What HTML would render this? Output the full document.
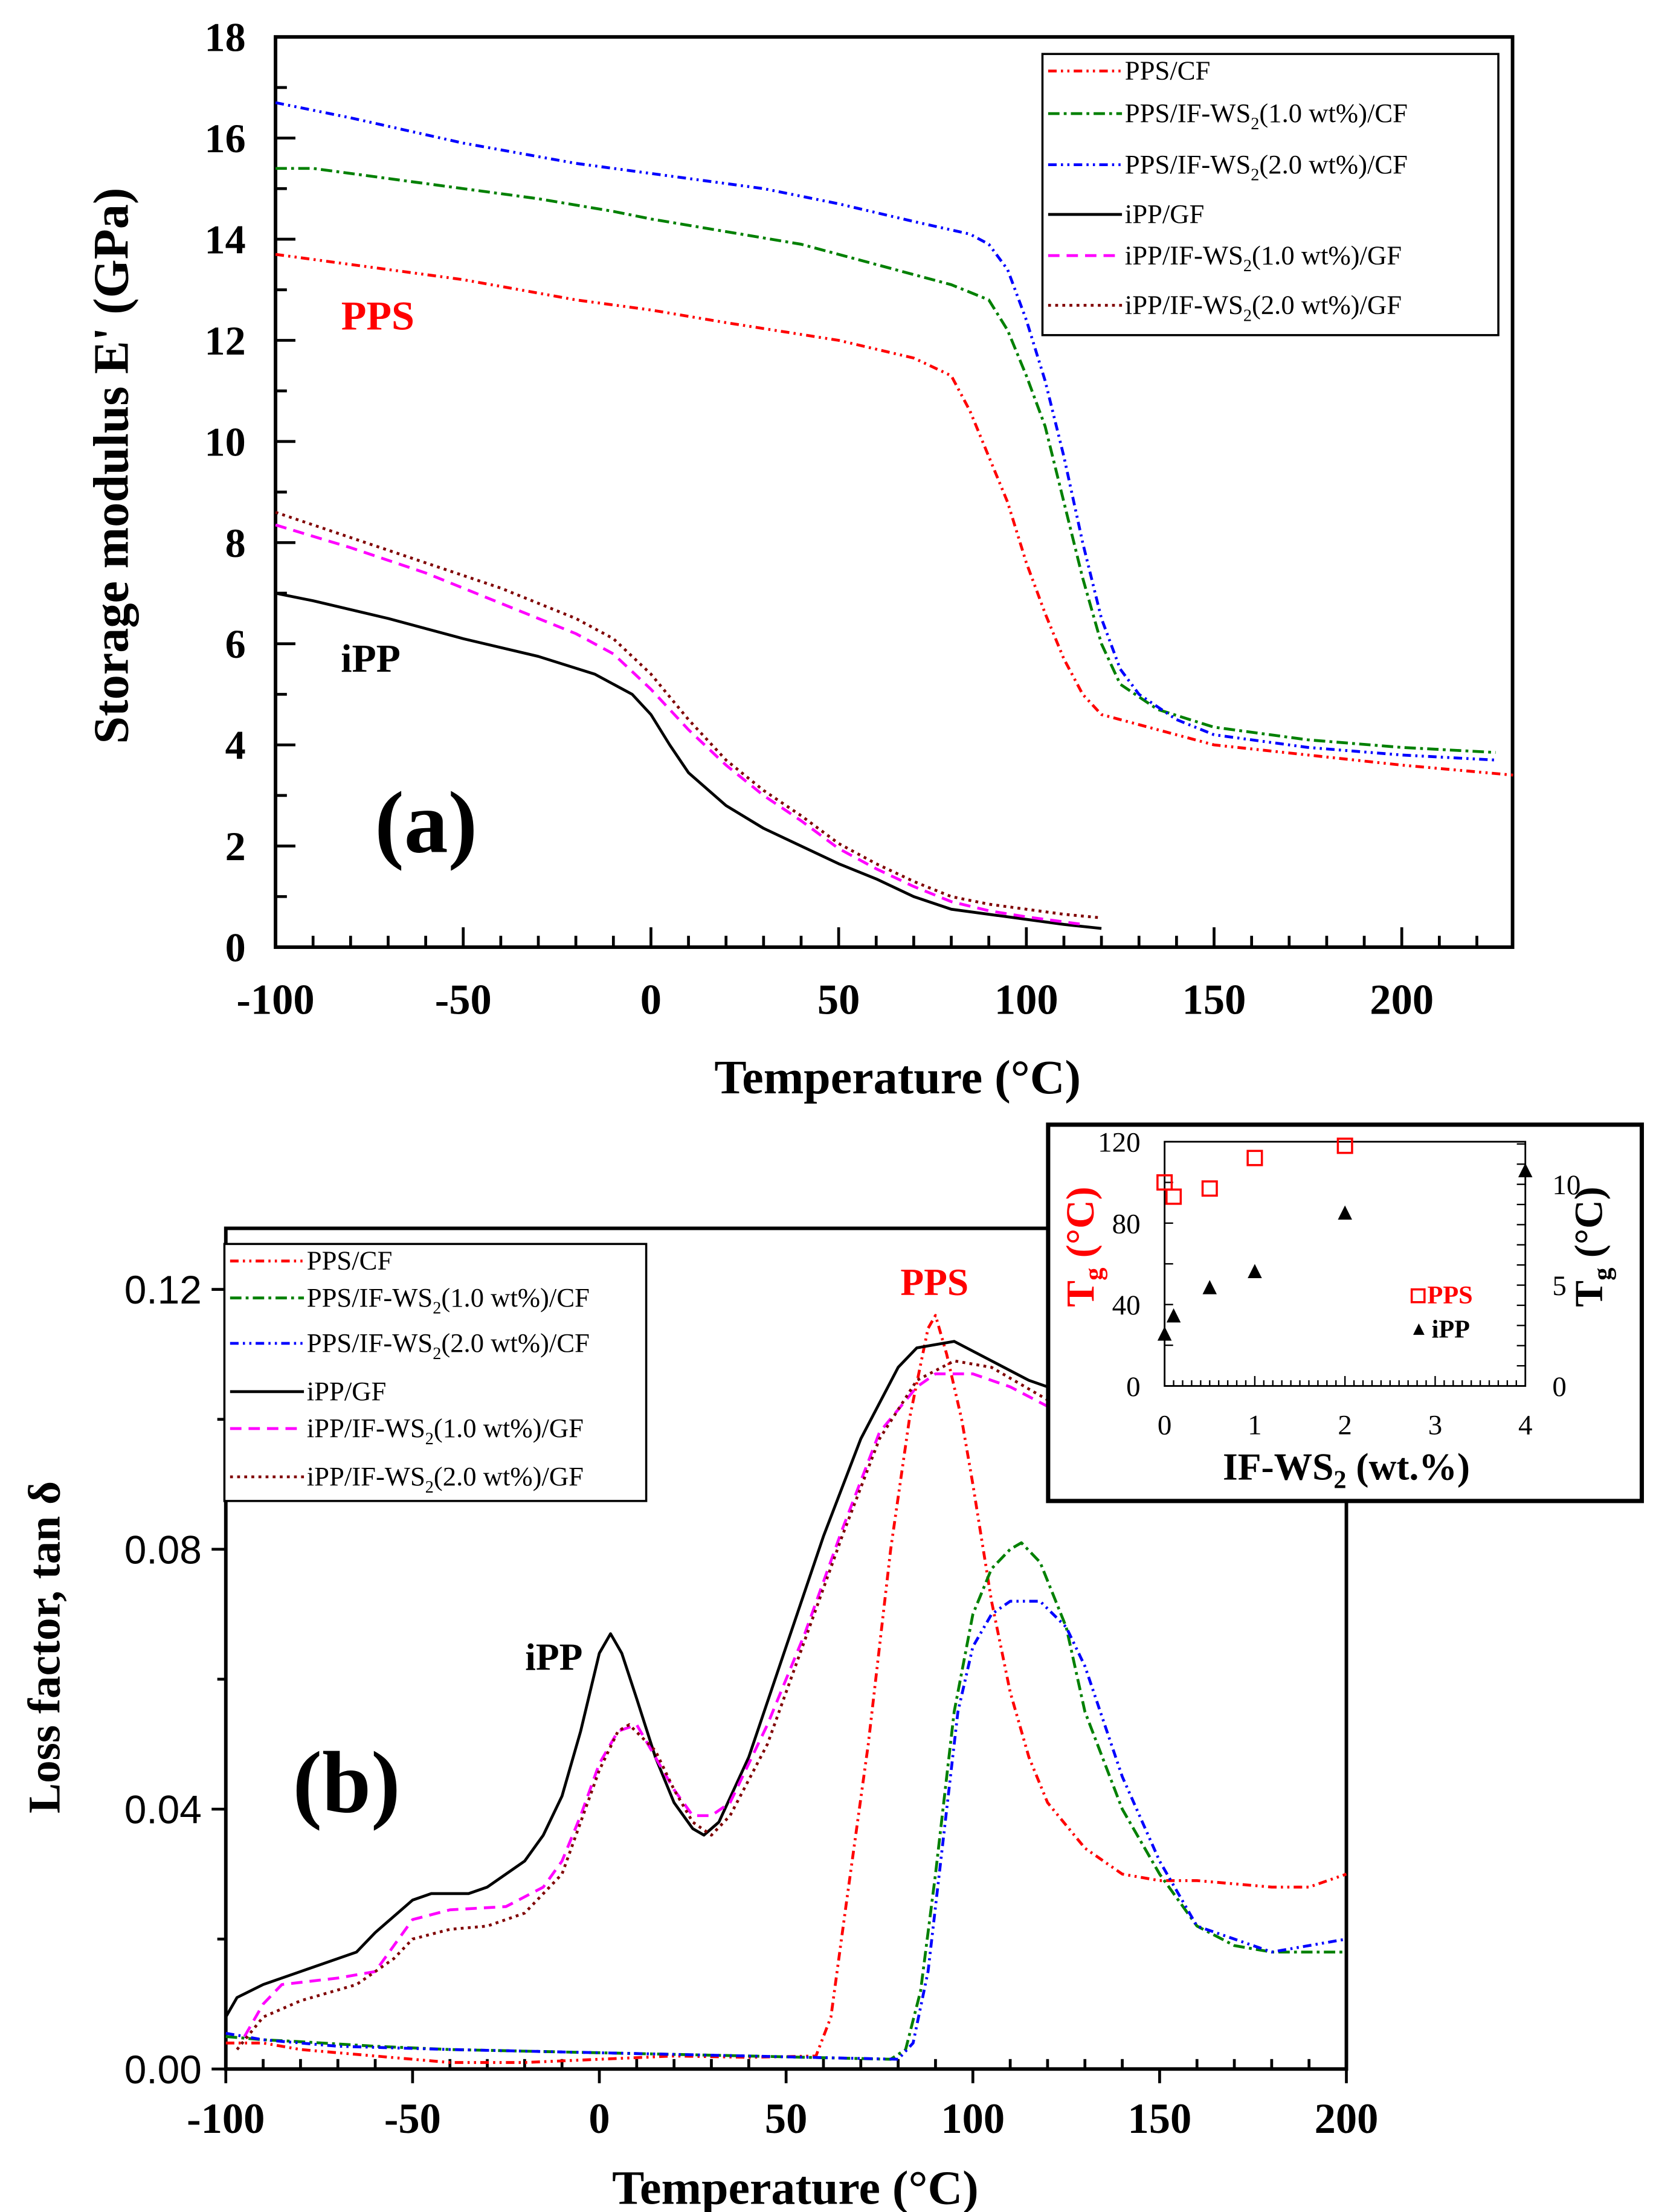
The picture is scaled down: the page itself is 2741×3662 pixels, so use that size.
<!DOCTYPE html>
<html><head><meta charset="utf-8"><style>
html,body{margin:0;padding:0;background:#fff;}
svg{display:block;}
</style></head><body>
<svg id="fig" width="2741" height="3662" viewBox="0 0 1166 1557.7" preserveAspectRatio="none" xmlns="http://www.w3.org/2000/svg"></svg>
<script>
// ---------- data (a) storage modulus ----------
const aRedT=[-100,-80,-50,-20,0,20,50,70,80,85,90,95,100,105,110,115,120,130,150,175,200,230];
const aRedV=[13.7,13.5,13.2,12.8,12.6,12.35,12.0,11.65,11.3,10.6,9.7,8.8,7.6,6.6,5.7,5.0,4.6,4.4,4.0,3.8,3.6,3.4];
const aGreenT=[-100,-90,-70,-50,-30,-10,0,20,40,60,80,90,95,100,105,110,115,120,125,135,150,175,200,225];
const aGreenV=[15.4,15.4,15.2,15.0,14.8,14.55,14.4,14.15,13.9,13.5,13.1,12.8,12.2,11.3,10.3,8.8,7.3,6.0,5.2,4.7,4.35,4.1,3.95,3.85];
const aBlueT=[-100,-80,-50,-20,0,30,50,70,85,90,95,100,105,110,115,120,125,130,140,150,175,200,225];
const aBlueV=[16.7,16.4,15.9,15.5,15.3,15.0,14.7,14.35,14.1,13.9,13.4,12.4,11.2,9.7,8.0,6.5,5.5,5.0,4.5,4.2,3.95,3.8,3.7];
const aBlackT=[-100,-90,-70,-50,-30,-15,-5,0,5,10,20,30,40,50,60,70,80,90,100,110,120];
const aBlackV=[7.0,6.85,6.5,6.1,5.75,5.4,5.0,4.6,4.0,3.45,2.8,2.35,2.0,1.65,1.35,1.0,0.75,0.65,0.55,0.45,0.37];
const aMagT=[-100,-80,-60,-40,-20,-10,0,10,20,30,40,50,60,70,80,90,100,110,115];
const aMagV=[8.35,7.9,7.4,6.8,6.2,5.8,5.1,4.3,3.6,3.0,2.5,1.95,1.55,1.2,0.9,0.72,0.6,0.5,0.45];
const aBrT=[-100,-80,-60,-40,-20,-10,0,10,20,30,40,50,60,70,80,90,100,110,120];
const aBrV=[8.6,8.1,7.6,7.1,6.5,6.1,5.4,4.5,3.7,3.1,2.6,2.05,1.65,1.3,1.0,0.85,0.75,0.65,0.58];
const aXTicks=[-100,-50,0,50,100,150,200];
const aYTicks=[0,2,4,6,8,10,12,14,16,18];
// ---------- data (b) loss factor ----------
const bRedT=[-100,-90,-80,-60,-40,-20,0,20,40,58,62,66,72,78,83,88,90,93,97,100,105,110,115,120,130,140,150,160,180,190,200];
const bRedV=[0.004,0.004,0.003,0.002,0.001,0.001,0.0015,0.002,0.0018,0.002,0.008,0.025,0.05,0.08,0.1,0.114,0.116,0.11,0.1,0.09,0.072,0.058,0.048,0.041,0.034,0.03,0.029,0.029,0.028,0.028,0.03];
const bGreenT=[-100,-90,-80,-60,-40,0,40,78,82,86,90,95,100,105,110,113,118,125,130,140,150,160,170,180,190,200];
const bGreenV=[0.005,0.0045,0.0042,0.0035,0.003,0.0025,0.002,0.0015,0.003,0.012,0.03,0.055,0.07,0.077,0.08,0.081,0.078,0.068,0.055,0.04,0.03,0.022,0.019,0.018,0.018,0.018];
const bBlueT=[-100,-90,-70,-40,0,40,80,84,88,92,96,100,105,110,118,125,130,140,150,160,170,180,190,200];
const bBlueV=[0.0055,0.0045,0.0035,0.003,0.0025,0.002,0.0015,0.004,0.015,0.035,0.055,0.065,0.07,0.072,0.072,0.068,0.062,0.045,0.032,0.022,0.02,0.018,0.019,0.02];
const bBlackT=[-100,-97,-90,-80,-70,-65,-60,-50,-45,-35,-30,-20,-15,-10,-5,0,3,6,10,15,20,25,28,32,40,50,60,70,80,85,95,105,115,120];
const bBlackV=[0.008,0.011,0.013,0.015,0.017,0.018,0.021,0.026,0.027,0.027,0.028,0.032,0.036,0.042,0.052,0.064,0.067,0.064,0.057,0.048,0.041,0.037,0.036,0.038,0.048,0.065,0.082,0.097,0.108,0.111,0.112,0.109,0.106,0.105];
const bMagT=[-95,-90,-85,-70,-60,-55,-50,-40,-25,-15,-10,-5,0,5,10,15,20,25,30,35,45,55,65,75,85,90,100,110,120];
const bMagV=[0.005,0.01,0.013,0.014,0.015,0.019,0.023,0.0245,0.025,0.028,0.032,0.039,0.047,0.052,0.053,0.048,0.043,0.039,0.039,0.041,0.053,0.067,0.083,0.098,0.105,0.107,0.107,0.105,0.102];
const bBrT=[-97,-90,-80,-65,-55,-50,-40,-30,-20,-10,-5,0,5,8,15,20,25,30,35,45,55,65,75,85,95,105,120];
const bBrV=[0.003,0.008,0.0105,0.013,0.017,0.02,0.0215,0.022,0.024,0.03,0.038,0.046,0.052,0.053,0.049,0.043,0.038,0.036,0.039,0.05,0.066,0.082,0.097,0.106,0.109,0.108,0.103];
const bXTicks=[-100,-50,0,50,100,150,200];
const bYTicks=[0,0.04,0.08,0.12];
const bYTickLabels=["0.00","0.04","0.08","0.12"];
// ---------- inset ----------
const insPPSx=[0,0.1,0.5,1,2];
const insPPSy=[100,93,97,112,118];
const insIPPx=[0,0.1,0.5,1,2,4];
const insIPPy=[2.6,3.5,4.9,5.7,8.6,10.7];
const insXTicks=[0,1,2,3,4];
const insYL=[0,40,80,120];
const insYR=[0,5,10];

const NS="http://www.w3.org/2000/svg";
const svg=document.getElementById('fig');
function mk(tag,attrs,parent){const e=document.createElementNS(NS,tag);for(const k in attrs)e.setAttribute(k,attrs[k]);(parent||svg).appendChild(e);return e;}
function txt(s,x,y,size,opts,parent){opts=opts||{};const t=mk('text',{x:x,y:y,'font-size':size,'font-family':opts.ff||'"Liberation Serif",serif','font-weight':opts.fw||'normal','text-anchor':opts.anchor||'middle',fill:opts.fill||'#000'},parent);if(opts.rot)t.setAttribute('transform','rotate(-90 '+x+' '+y+')');t.textContent=s;return t;}

// axes (a)
const ax=v=>194+(v+100)*(987-194)/300;
const ay=v=>667-v*(667-26)/18;
// axes (b)
const bx=v=>159+(v+100)*(948-159)/300;
const by=v=>1457-v*(1457-908)/0.12;

function poly(T,V,fx,fy,color,dash,name,parent){
  const pts=T.map((t,i)=>fx(t).toFixed(2)+','+fy(V[i]).toFixed(2)).join(' ');
  const p=mk('polyline',{points:pts,fill:'none',stroke:color,'stroke-width':2,'stroke-dasharray':dash,'stroke-linejoin':'round'},parent);
  
  
  return p;
}
const styles=[
 ['PPS/CF','#ff0000','6 3 1.5 3 1.5 3'],
 ['PPS/IF-WS','#008000','8 3 2 3'],
 ['PPS/IF-WS','#0000ff','6 3 1.5 3 1.5 3'],
 ['iPP/GF','#000000',''],
 ['iPP/IF-WS','#ff00ff','8 5'],
 ['iPP/IF-WS','#800000','2 3']
];
const legLabels=[['PPS/CF',''],['PPS/IF-WS','(1.0 wt%)/CF'],['PPS/IF-WS','(2.0 wt%)/CF'],['iPP/GF',''],['iPP/IF-WS','(1.0 wt%)/GF'],['iPP/IF-WS','(2.0 wt%)/GF']];

// ===== Panel (a) =====
const ga=mk('g',{});


const fa=mk('rect',{x:194,y:26,width:871,height:641,fill:'none',stroke:'#000','stroke-width':2.5},ga);


for(let v=-100;v<=229;v+=10){const maj=(v%50===0);mk('line',{x1:ax(v),x2:ax(v),y1:667,y2:667-(maj?14:8),stroke:'#000','stroke-width':2},ga);}
for(let v=0;v<=18;v+=1){const maj=(v%2===0);mk('line',{x1:194,x2:194+(maj?14:8),y1:ay(v),y2:ay(v),stroke:'#000','stroke-width':2},ga);}
aXTicks.forEach(v=>{const t=txt(String(v),ax(v),714,30,{fw:'bold'},ga);});
aYTicks.forEach(v=>{const t=txt(String(v),173,ay(v)+10,29,{fw:'bold',anchor:'end'},ga);});
const xta=txt('Temperature  (°C)',632,770,34,{fw:'bold'},ga);


const yta=txt("Storage modulus  E' (GPa)",90,328,35,{fw:'bold',rot:true},ga);


poly(aRedT,aRedV,ax,ay,styles[0][1],styles[0][2],'series-pps-cf-a',ga);
poly(aGreenT,aGreenV,ax,ay,styles[1][1],styles[1][2],'series-pps-ws1-cf-a',ga);
poly(aBlueT,aBlueV,ax,ay,styles[2][1],styles[2][2],'series-pps-ws2-cf-a',ga);
poly(aBlackT,aBlackV,ax,ay,styles[3][1],styles[3][2],'series-ipp-gf-a',ga);
poly(aMagT,aMagV,ax,ay,styles[4][1],styles[4][2],'series-ipp-ws1-gf-a',ga);
poly(aBrT,aBrV,ax,ay,styles[5][1],styles[5][2],'series-ipp-ws2-gf-a',ga);
let t;
t=txt('PPS',266,232,29,{fw:'bold',fill:'#ff0000'},ga);
t=txt('iPP',261,473,28,{fw:'bold'},ga);
t=txt('(a)',300,600,62,{fw:'bold'},ga);

function legend(x,y,w,h,ys,parent,name){
  const g=mk('g',{},parent);
  
  
  mk('rect',{x:x,y:y,width:w,height:h,fill:'#fff',stroke:'#000','stroke-width':1.5},g);
  styles.forEach((s,i)=>{
    const ln=mk('line',{x1:x+4,x2:x+56,y1:ys[i],y2:ys[i],stroke:s[1],'stroke-width':2,'stroke-dasharray':s[2]},g);
    
    
    const tt=mk('text',{x:x+58,y:ys[i]+6,'font-size':19,'font-family':'"Liberation Serif",serif','text-anchor':'start'},g);
    
    
    const L=legLabels[i];
    tt.appendChild(document.createTextNode(L[0]));
    if(L[1]){const sub=mk('tspan',{'font-size':12,dy:5},tt);sub.textContent='2';const r=mk('tspan',{dy:-5},tt);r.textContent=L[1];}
  });
}
legend(734,38,321,198,[50,80,116,151,180,215],ga,'legend-a');

// ===== Panel (b) =====
const gb=mk('g',{});


const fb=mk('rect',{x:159,y:865,width:789,height:592,fill:'none',stroke:'#000','stroke-width':2.5},gb);


for(let v=-100;v<=200;v+=10){const maj=(v%50===0);mk('line',{x1:bx(v),x2:bx(v),y1:1457,y2:1457+(maj?10:0)-(maj?0:7),stroke:'#000','stroke-width':2},gb);}
for(let k=0;k<=6;k++){const v=k*0.02;const maj=(k%2===0);mk('line',{x1:159,x2:159-(maj?10:6),y1:by(v),y2:by(v),stroke:'#000','stroke-width':2},gb);}
bXTicks.forEach(v=>{const q=txt(String(v),bx(v),1502,30,{fw:'bold'},gb);});
bYTicks.forEach((v,i)=>{const q=txt(bYTickLabels[i],142,by(v)+10,28,{ff:'"Liberation Sans",sans-serif',anchor:'end'},gb);});
t=txt('Temperature  (°C)',560,1552,34,{fw:'bold'},gb);
t=txt('Loss factor, tan δ',42,1160,32,{fw:'bold',rot:true},gb);
poly(bRedT,bRedV,bx,by,styles[0][1],styles[0][2],'series-pps-cf-b',gb);
poly(bGreenT,bGreenV,bx,by,styles[1][1],styles[1][2],'series-pps-ws1-cf-b',gb);
poly(bBlueT,bBlueV,bx,by,styles[2][1],styles[2][2],'series-pps-ws2-cf-b',gb);
poly(bBlackT,bBlackV,bx,by,styles[3][1],styles[3][2],'series-ipp-gf-b',gb);
poly(bMagT,bMagV,bx,by,styles[4][1],styles[4][2],'series-ipp-ws1-gf-b',gb);
poly(bBrT,bBrV,bx,by,styles[5][1],styles[5][2],'series-ipp-ws2-gf-b',gb);
t=txt('PPS',658,912,27,{fw:'bold',fill:'#ff0000'},gb);
t=txt('iPP',390,1176,27,{fw:'bold'},gb);
t=txt('(b)',244,1276,62,{fw:'bold'},gb);
legend(158,876,297,181,[888,914,946,980,1006,1040],gb,'legend-b');

// ===== Inset =====
const gi=mk('g',{});


const ib=mk('rect',{x:738,y:792,width:418,height:265,fill:'#fff',stroke:'#000','stroke-width':3},gi);


const ix=v=>820+v*(1074-820)/4;
const iyL=v=>976-v*(976-804)/120;
const iyR=v=>976-v*14.2;
mk('rect',{x:820,y:804,width:254,height:172,fill:'none',stroke:'#000','stroke-width':1.2},gi);
for(let k=0;k<=40;k++){const v=k*0.1;const maj=(k%10===0);mk('line',{x1:ix(v),x2:ix(v),y1:976,y2:976-(maj?7:4),stroke:'#000','stroke-width':1},gi);}
for(let v=0;v<=120;v+=20){mk('line',{x1:820,x2:826,y1:iyL(v),y2:iyL(v),stroke:'#000','stroke-width':1},gi);}
for(let v=0;v<=12;v+=1){mk('line',{x1:1074,x2:1068,y1:iyR(v),y2:iyR(v),stroke:'#000','stroke-width':1},gi);}
insXTicks.forEach(v=>{const q=txt(String(v),ix(v),1010,20,{},gi);});
insYL.forEach(v=>{const q=txt(String(v),803,iyL(v)+7,20,{anchor:'end'},gi);});
insYR.forEach(v=>{const q=txt(String(v),1093,iyR(v)+7,20,{anchor:'start'},gi);});
// titles
let lt=mk('text',{x:770,y:878,'font-size':28,'font-family':'"Liberation Serif",serif','font-weight':'bold',fill:'#ff0000','text-anchor':'middle',transform:'rotate(-90 770 878)'},gi);


lt.appendChild(document.createTextNode('T'));let s1=mk('tspan',{'font-size':18,dy:6},lt);s1.textContent='g';let s2=mk('tspan',{dy:-6},lt);s2.textContent=' (°C)';
let rt=mk('text',{x:1128,y:878,'font-size':28,'font-family':'"Liberation Serif",serif','font-weight':'bold',fill:'#000','text-anchor':'middle',transform:'rotate(-90 1128 878)'},gi);


rt.appendChild(document.createTextNode('T'));s1=mk('tspan',{'font-size':18,dy:6},rt);s1.textContent='g';s2=mk('tspan',{dy:-6},rt);s2.textContent=' (°C)';
let xt=mk('text',{x:948,y:1042,'font-size':27,'font-family':'"Liberation Serif",serif','font-weight':'bold','text-anchor':'middle'},gi);


xt.appendChild(document.createTextNode('IF-WS'));s1=mk('tspan',{'font-size':18,dy:6},xt);s1.textContent='2';s2=mk('tspan',{dy:-6},xt);s2.textContent=' (wt.%)';
insPPSx.forEach((x,i)=>{const r=mk('rect',{x:ix(x)-5,y:iyL(insPPSy[i])-5,width:10,height:10,fill:'none',stroke:'#ff0000','stroke-width':1.5},gi);});
insIPPx.forEach((x,i)=>{const cx=ix(x),cy=iyR(insIPPy[i]);const p=mk('polygon',{points:(cx-5)+','+(cy+5)+' '+(cx+5)+','+(cy+5)+' '+cx+','+(cy-5),fill:'#000'},gi);});
// inset legend
const il=mk('g',{},gi);


mk('rect',{x:994,y:908,width:9,height:9,fill:'none',stroke:'#ff0000','stroke-width':1.5},il);
txt('PPS',1005,918,18,{anchor:'start',fill:'#ff0000',fw:'bold'},il);
mk('polygon',{points:'995,940 1003,940 999,932',fill:'#000'},il);
txt('iPP',1008,942,18,{anchor:'start',fw:'bold'},il);
</script>
</body></html>
